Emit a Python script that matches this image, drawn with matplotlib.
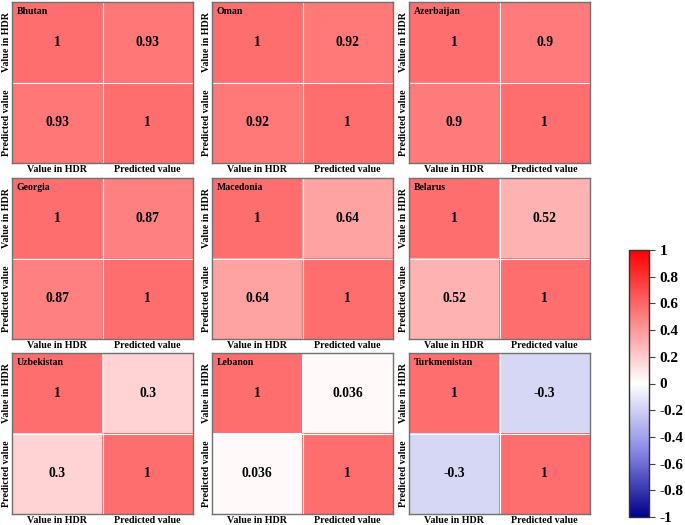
import numpy as np
import matplotlib
matplotlib.use("Agg")
import matplotlib.pyplot as plt
from matplotlib.colors import LinearSegmentedColormap, Normalize
from matplotlib.cm import ScalarMappable

countries = ["Bhutan", "Oman", "Azerbaijan",
             "Georgia", "Macedonia", "Belarus",
             "Uzbekistan", "Lebanon", "Turkmenistan"]
correlations = [0.93, 0.92, 0.9, 0.87, 0.64, 0.52, 0.3, 0.036, -0.3]
labels = ["Value in HDR", "Predicted value"]
cbar_ticks = [-1, -0.8, -0.6, -0.4, -0.2, 0, 0.2, 0.4, 0.6, 0.8, 1]

plt.rcParams['font.family'] = ['Liberation Serif', 'DejaVu Serif']
plt.rcParams['font.weight'] = 'bold'

W, H = 685, 525
fig = plt.figure(figsize=(W / 100, H / 100), dpi=100)

cmap = LinearSegmentedColormap.from_list(
    "bwr_custom",
    [(0.0, "#00008B"), (0.25, "#8A8AE6"), (0.5, "#FFFFFF"), (1.0, "#FF0000")])
norm = Normalize(vmin=-1, vmax=1)

col_x = [12, 212, 409]
row_y = [2, 178, 353]
pw, ph = 181, 161


def fmt(v):
    return f"{v:g}"


for i, (name, r) in enumerate(zip(countries, correlations)):
    cx = col_x[i % 3]
    ry = row_y[i // 3]
    ax = fig.add_axes([cx / W, 1 - (ry + ph) / H, pw / W, ph / H])
    mat = np.array([[1.0, r], [r, 1.0]])
    ax.imshow(mat, cmap=cmap, norm=norm, alpha=0.57, aspect='auto',
              extent=(-0.5, 1.5, 1.5, -0.5))
    for (a, b), v in np.ndenumerate(mat):
        ax.text(b, a, fmt(v), ha='center', va='center', fontsize=9.8,
                fontweight='bold', color='black')
    ax.axhline(0.5, color='white', lw=0.8)
    ax.axvline(0.5, color='white', lw=0.8)
    ax.set_xlim(-0.5, 1.5)
    ax.set_ylim(1.5, -0.5)
    ax.set_xticks([0, 1])
    ax.set_xticklabels(labels, fontsize=7.2, fontweight='bold')
    ax.set_yticks([0, 1])
    ax.set_yticklabels(labels, fontsize=7.2, fontweight='bold', rotation=90, va='center')
    ax.tick_params(axis='x', length=0, pad=1.5)
    ax.tick_params(axis='y', length=0, pad=1.0)
    for sp in ax.spines.values():
        sp.set_color('#707070')
        sp.set_linewidth(1.0)
    ax.text(0.025, 0.97, name, transform=ax.transAxes, ha='left', va='top',
            fontsize=7, fontweight='bold')

cax = fig.add_axes([629 / W, 1 - 517 / H, 20 / W, (517 - 250) / H])
cb = fig.colorbar(ScalarMappable(norm=norm, cmap=cmap), cax=cax, ticks=cbar_ticks)
cb.ax.set_yticklabels([f"{t:g}" for t in cbar_ticks], fontsize=11, fontweight='bold')
cb.ax.tick_params(length=4, width=0.8, color='#404040')
cb.outline.set_edgecolor('#303030')
cb.outline.set_linewidth(1.0)

fig.savefig("out.png", dpi=100)
